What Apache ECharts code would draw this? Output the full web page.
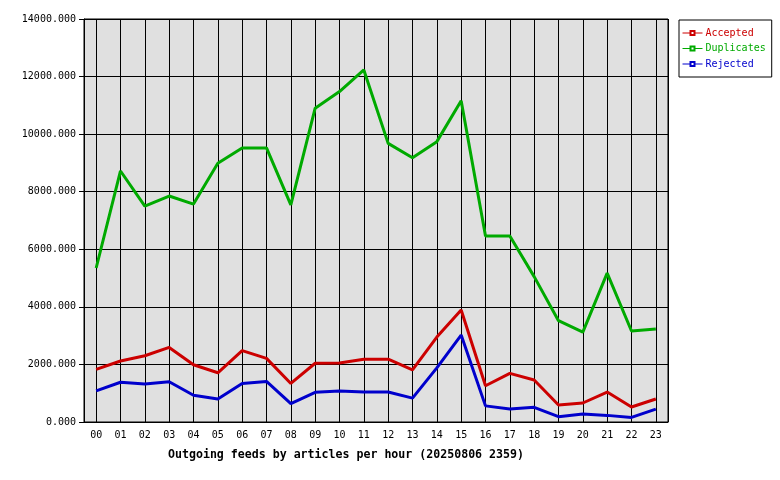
<!DOCTYPE html>
<html lang="en">
<head>
    <meta charset="UTF-8">
    <title>Outgoing feeds</title>
    <script src="https://cdnjs.cloudflare.com/ajax/libs/echarts/6.0.0/echarts.min.js"></script>
    <style>
        body { margin: 0; background: #fff; }
    </style>
</head>
<body>
    <div id="main" style="width: 780px; height: 480px;"></div>
    <script>
        // hours of the day
        const hours = ["00", "01", "02", "03", "04", "05", "06", "07", "08", "09", "10", "11",
            "12", "13", "14", "15", "16", "17", "18", "19", "20", "21", "22", "23"];

        const accepted = [1830, 2120, 2300, 2590, 1990, 1710, 2480, 2210, 1340, 2040, 2050, 2180,
            2180, 1810, 2950, 3890, 1260, 1690, 1460, 590, 660, 1040, 520, 800];

        const duplicates = [5350, 8720, 7500, 7850, 7570, 8990, 9520, 9520, 7540, 10900, 11480, 12230,
            9680, 9180, 9740, 11160, 6460, 6460, 5050, 3520, 3120, 5170, 3160, 3230];

        const rejected = [1080, 1380, 1320, 1400, 930, 800, 1340, 1410, 640, 1030, 1080, 1040,
            1040, 830, 1880, 3020, 560, 450, 510, 185, 280, 230, 160, 450];

        const mono = "DejaVu Sans Mono";
        const chart = echarts.init(document.getElementById('main'));

        // half-hour slots, only used to put the vertical grid lines through the points
        const halfSlots = [];
        hours.forEach((h) => { halfSlots.push(h + 'a', h + 'b'); });

        function line(name, data, color) {
            return {
                name: name,
                type: 'line',
                data: data,
                symbol: 'emptyRect',
                symbolSize: 4,
                showSymbol: false,
                animation: false,
                lineStyle: { color: color, width: 3 },
                itemStyle: { color: color }
            };
        }

        const option = {
            backgroundColor: '#ffffff',
            title: {
                text: 'Outgoing feeds by articles per hour (20250806 2359)',
                left: 163,
                top: 444,
                textStyle: { fontFamily: mono, fontSize: 11.6, fontWeight: 'bold', color: '#000' }
            },
            legend: {
                orient: 'vertical',
                left: 679,
                top: 20,
                padding: [7, 6, 7, 3],
                itemWidth: 20,
                itemHeight: 5,
                itemGap: 3.5,
                borderColor: '#000',
                borderWidth: 1,
                backgroundColor: '#fff',
                lineStyle: { width: 1 },
                textStyle: { fontFamily: mono, fontSize: 10, lineHeight: 12, padding: [0, 0, 0, -2] },
                data: [
                    { name: 'Accepted', textStyle: { color: '#cc0000' } },
                    { name: 'Duplicates', textStyle: { color: '#00aa00' } },
                    { name: 'Rejected', textStyle: { color: '#0000cc' } }
                ]
            },
            grid: {
                left: 84, right: 112, top: 19, bottom: 58,
                show: true,
                backgroundColor: '#e0e0e0',
                borderColor: '#000',
                borderWidth: 1
            },
            xAxis: [
                {
                    type: 'category',
                    data: hours,
                    boundaryGap: true,
                    axisLine: { lineStyle: { color: '#000' } },
                    axisTick: { alignWithLabel: true, length: 5, lineStyle: { color: '#000' } },
                    axisLabel: { fontFamily: mono, fontSize: 10, color: '#000', margin: 8, interval: 0 },
                    splitLine: { show: false }
                },
                {
                    type: 'category',
                    data: halfSlots,
                    position: 'bottom',
                    boundaryGap: true,
                    axisLine: { show: false },
                    axisTick: { show: false },
                    axisLabel: { show: false },
                    splitLine: {
                        show: true,
                        interval: (index) => index % 2 === 1,
                        lineStyle: { color: '#000', width: 1 }
                    }
                }
            ],
            yAxis: {
                type: 'value',
                min: 0,
                max: 14000,
                interval: 2000,
                axisLine: { show: true, lineStyle: { color: '#000' } },
                axisTick: { show: true, length: 5, lineStyle: { color: '#000' } },
                axisLabel: {
                    fontFamily: mono, fontSize: 10, color: '#000', margin: 8,
                    formatter: (v) => v.toFixed(3)
                },
                splitLine: { show: true, lineStyle: { color: '#000', width: 1 } }
            },
            series: [
                line('Accepted', accepted, '#cc0000'),
                line('Duplicates', duplicates, '#00aa00'),
                line('Rejected', rejected, '#0000cc')
            ]
        };

        chart.setOption(option);
    </script>
</body>
</html>
